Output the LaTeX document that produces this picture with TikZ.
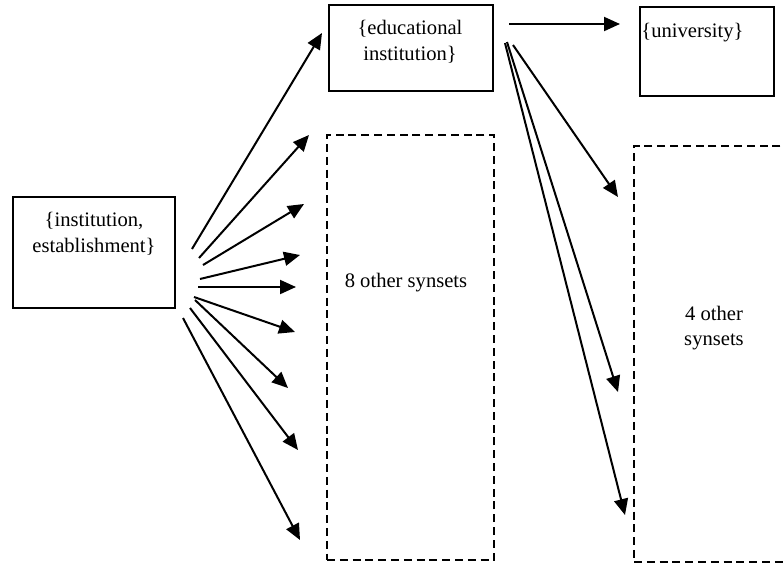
\documentclass[tikz,border=0pt]{standalone}
\usepackage{fontspec}
\setmainfont{Liberation Serif}
\usetikzlibrary{arrows.meta}
\begin{document}
\begin{tikzpicture}[x=0.5pt,y=-0.5pt,
  box/.style={draw,line width=1.1pt,inner sep=0pt},
  dbox/.style={draw,line width=1.3pt,dash pattern=on 4pt off 2.4pt,inner sep=0pt},
  txt/.style={inner sep=0pt,font=\fontsize{10.3}{12.8}\selectfont,align=center},
  arr/.style={line width=1pt,-{Triangle[length=8pt,width=7pt]}}]
\useasboundingbox (0,0) rectangle (784,568);
\clip (0,0) rectangle (784,568);
% boxes
\node[box,minimum width=81pt,minimum height=55.5pt] (inst) at (94,252.5) {};
\node[box,minimum width=82pt,minimum height=43pt] (edu) at (411,48) {};
\node[box,minimum width=67pt,minimum height=44.5pt] (univ) at (707,51.5) {};
\node[dbox,minimum width=83.5pt,minimum height=212.5pt] (other8) at (410.5,347.5) {};
\node[dbox,minimum width=83pt,minimum height=208pt] (other4) at (717,354) {};
% texts
\node[txt] (instT) at (94,234) {\{institution,\\establishment\}};
\node[txt] (eduT) at (410,42) {\{educational\\institution\}};
\node[txt,anchor=west] (univT) at (641,33) {\{university\}};
\node[txt] (o8T) at (406,283) {8 other synsets};
\node[txt] (o4T) at (714,328) {4 other\\synsets};
% arrow ends from inst
\coordinate (s1) at (192,249); \coordinate (t1) at (322,33);
\coordinate (s2) at (199,258); \coordinate (t2) at (309,135);
\coordinate (s3) at (203,265); \coordinate (t3) at (304,204);
\coordinate (s4) at (200,279); \coordinate (t4) at (300,255);
\coordinate (s5) at (198,287); \coordinate (t5) at (296,287);
\coordinate (s6) at (194,297); \coordinate (t6) at (295,332);
\coordinate (s7) at (195,300); \coordinate (t7) at (288,388);
\coordinate (s8) at (190,308); \coordinate (t8) at (298,450);
\coordinate (s9) at (183,318); \coordinate (t9) at (300,540);
% arrow ends from edu
\coordinate (u0) at (509,24); \coordinate (v0) at (620,24);
\coordinate (u1) at (513,45); \coordinate (v1) at (618,197);
\coordinate (u2) at (507,42); \coordinate (v2) at (618,392);
\coordinate (u3) at (505,43); \coordinate (v3) at (625,515);
\foreach \i in {1,...,9} { \draw[arr] (s\i) -- (t\i); }
\foreach \i in {0,...,3} { \draw[arr] (u\i) -- (v\i); }
\end{tikzpicture}
\end{document}
